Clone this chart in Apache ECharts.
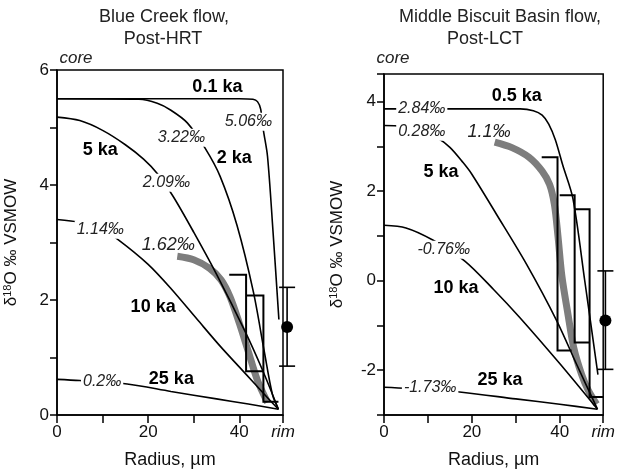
<!DOCTYPE html>
<html>
<head>
<meta charset="utf-8">
<script src="https://cdn.jsdelivr.net/npm/echarts@6/dist/echarts.min.js"></script>
<style>
  html, body { margin: 0; padding: 0; background: #fff; }
  #chart { width: 618px; height: 474px; }
</style>
</head>
<body>
<div id="chart"></div>
<script>
// Blue Creek flow (left panel) -- diffusion profiles, [radius um, d18O]
const bc01ka = [[0, 5.5], [20, 5.5], [40, 5.5], [43, 5.49], [44, 5.45], [44.7, 5.32], [45.3, 4.95], [46.2, 4.5], [47.4, 3.2], [48.7, 1.66]];
const bc2ka = [[0, 5.5], [18, 5.49], [22, 5.42], [25, 5.3], [28.6, 5.08], [32.5, 4.64], [35.8, 4.15], [39.5, 3.3], [43.1, 2.14], [45.5, 1.1], [47.3, 0.35], [48.6, 0.1]];
const bc5ka = [[0, 5.18], [5, 5.12], [10, 4.95], [15, 4.7], [19, 4.45], [22, 4.2], [25.5, 3.8], [30, 3.18], [35, 2.45], [41.3, 1.45], [45, 0.8], [48.6, 0.1]];
const bc10ka = [[0, 3.4], [5, 3.35], [10, 3.22], [13.4, 3.05], [20, 2.62], [25, 2.2], [30.8, 1.66], [36, 1.18], [41, 0.75], [46.2, 0.3], [48.6, 0.1]];
const bc25ka = [[0, 0.62], [5, 0.6], [15.4, 0.54], [25, 0.41], [35, 0.28], [42, 0.19], [48.6, 0.1]];
const bcMeasured = [[26.4, 2.76], [30, 2.7], [33.5, 2.55], [36, 2.35], [38, 2.05], [40, 1.6], [42, 1.1], [44, 0.6], [46.2, 0.22]];
// step outlines: [x start, x step, x end, upper value, lower value]
const bcSteps = [[37.8, 41.5, 45.3, 2.44, 0.76], [41.5, 45.3, 48.6, 2.08, 0.23]];
// bulk analysis: [radius, value, low, high]
const bcBulk = [[50.5, 1.53, 0.85, 2.22]];
// annotations: [radius, value, text, kind]
const bcNotes = [
  [35.2, 5.7, '0.1 ka', 'b'], [42.0, 5.1, '5.06‰', 'i'], [27.3, 4.82, '3.22‰', 'i'],
  [38.9, 4.47, '2 ka', 'b'], [9.5, 4.61, '5 ka', 'b'], [24.0, 4.04, '2.09‰', 'i'],
  [9.5, 3.22, '1.14‰', 'i'], [24.4, 2.96, '1.62‰', 'I'], [21.1, 1.87, '10 ka', 'b'],
  [9.9, 0.59, '0.2‰', 'i'], [25.1, 0.62, '25 ka', 'b']
];

// Middle Biscuit Basin flow (right panel)
const mb05ka = [[0, 3.84], [20, 3.84], [31, 3.84], [34, 3.8], [36, 3.7], [37.5, 3.5], [39, 3.15], [40.7, 2.58], [43, 1.84], [45.7, 0], [48.7, -2.1]];
const mb5ka = [[0, 3.47], [4, 3.45], [8, 3.36], [12, 3.2], [15, 2.98], [18, 2.64], [20, 2.38], [25.7, 1.47], [32.5, 0.36], [39.3, -0.89], [44, -1.9], [48.6, -2.87]];
const mb10ka = [[0, 1.24], [5, 1.18], [11.1, 0.91], [18.4, 0.44], [25, -0.2], [30.9, -0.82], [40, -1.85], [48.6, -2.87]];
const mb25ka = [[0, -2.38], [10, -2.43], [17.7, -2.49], [30, -2.64], [40, -2.76], [48.6, -2.87]];
const mbMeasured = [[25.2, 3.1], [29, 2.98], [33, 2.76], [36, 2.45], [37.7, 2.15], [38.8, 1.7], [39.6, 1.0], [40.5, 0.1], [41.8, -0.7], [43.2, -1.5], [45, -2.1], [46.5, -2.45], [48.4, -2.76]];
const mbSteps = [[35.9, 39.5, 42.7, 2.76, -1.56], [40.0, 43.4, 46.8, 1.91, -1.38], [43.4, 46.8, 49.9, 1.6, -2.6]];
const mbBulk = [[50.4, -0.89, -1.98, 0.22]];
const mbNotes = [
  [30.2, 4.13, '0.5 ka', 'b'], [8.6, 3.84, '2.84‰', 'i'], [8.6, 3.33, '0.28‰', 'i'],
  [23.9, 3.33, '1.1‰', 'I'], [13.0, 2.44, '5 ka', 'b'], [13.6, 0.69, '-0.76‰', 'i'],
  [16.4, -0.16, '10 ka', 'b'], [10.5, -2.38, '-1.73‰', 'i'], [26.4, -2.22, '25 ka', 'b']
];

const leftYRange = [0, 6];
const rightYRange = [-3, 4.62];
const leftRim = 49.6;
const rightRim = 49.9;

const FONT = '"Liberation Sans", Arial, Helvetica, sans-serif';
const chart = echarts.init(document.getElementById('chart'));

function xAxisFor(grid, rim) {
  return {
    type: 'value', gridIndex: grid, min: 0, max: rim,
    axisLine: { show: true, onZero: false, lineStyle: { color: '#000', width: 1.5 } },
    axisTick: { show: true, length: 8, customValues: [0, 10, 20, 30, 40, rim], lineStyle: { color: '#000', width: 1.5 } },
    axisLabel: {
      customValues: [0, 20, 40, rim], margin: 9, color: '#111', fontSize: 17, fontFamily: FONT,
      formatter: v => (v > 45 ? '{r|rim}' : String(v)),
      rich: { r: { fontStyle: 'italic', fontSize: 17, fontFamily: FONT, color: '#111' } }
    },
    splitLine: { show: false },
    name: 'Radius, µm', nameLocation: 'middle', nameGap: 36,
    nameTextStyle: { color: '#111', fontSize: 18, fontFamily: FONT }
  };
}

function yAxisFor(grid, range, gap) {
  return {
    type: 'value', gridIndex: grid, min: range[0], max: range[1], interval: 1,
    axisLine: { show: true, onZero: false, lineStyle: { color: '#000', width: 1.5 } },
    axisTick: { show: true, length: 7, lineStyle: { color: '#000', width: 1.5 } },
    axisLabel: {
      margin: 8, color: '#111', fontSize: 17, fontFamily: FONT, showMaxLabel: true,
      formatter: v => (Math.abs(v % 2) < 1e-9 ? String(v) : '')
    },
    splitLine: { show: false },
    name: '{d|δ}{s|18}{d|O ‰ VSMOW}', nameLocation: 'middle', nameGap: gap, nameRotate: 90,
    nameTextStyle: {
      rich: {
        d: { fontSize: 17, fontFamily: FONT, color: '#111' },
        s: { fontSize: 11, fontFamily: FONT, color: '#111', padding: [0, 0, 7, 0] }
      }
    }
  };
}

function curve(data, grid, width, color) {
  return {
    type: 'line', xAxisIndex: grid, yAxisIndex: grid, data: data,
    smooth: 0.3, showSymbol: false, silent: true,
    lineStyle: { color: color || '#000', width: width || 1.6 }, z: color ? 2 : 3
  };
}

function steps(data, grid) {
  return {
    type: 'custom', xAxisIndex: grid, yAxisIndex: grid, data: data, clip: false, z: 4,
    renderItem: (params, api) => {
      const a = api.coord([api.value(0), api.value(3)]);
      const b = api.coord([api.value(1), api.value(3)]);
      const c = api.coord([api.value(1), api.value(4)]);
      const d = api.coord([api.value(2), api.value(4)]);
      return { type: 'polyline', shape: { points: [a, b, c, d] }, style: { stroke: '#000', lineWidth: 2, fill: null } };
    }
  };
}

function bulk(data, grid) {
  return {
    type: 'custom', xAxisIndex: grid, yAxisIndex: grid, data: data, clip: false, z: 5,
    renderItem: (params, api) => {
      const c = api.coord([api.value(0), api.value(1)]);
      const lo = api.coord([api.value(0), api.value(2)]);
      const hi = api.coord([api.value(0), api.value(3)]);
      const st = { stroke: '#000', lineWidth: 1.6 };
      return {
        type: 'group', children: [
          { type: 'line', shape: { x1: lo[0], y1: lo[1], x2: hi[0], y2: hi[1] }, style: st },
          { type: 'line', shape: { x1: lo[0] - 8, y1: lo[1], x2: lo[0] + 8, y2: lo[1] }, style: st },
          { type: 'line', shape: { x1: hi[0] - 8, y1: hi[1], x2: hi[0] + 8, y2: hi[1] }, style: st },
          { type: 'circle', shape: { cx: c[0], cy: c[1], r: 6 }, style: { fill: '#000' } }
        ]
      };
    }
  };
}

function notes(list, grid) {
  return {
    type: 'custom', xAxisIndex: grid, yAxisIndex: grid, data: list.map(n => [n[0], n[1]]), clip: false, z: 6,
    renderItem: (params, api) => {
      const n = list[params.dataIndex];
      const p = api.coord([n[0], n[1]]);
      const kind = n[3];
      const font = kind === 'b' ? 'bold 18px ' + FONT : (kind === 'I' ? 'italic 18px ' + FONT : 'italic 16px ' + FONT);
      const style = { text: n[2], font: font, fill: kind === 'b' ? '#000' : '#222', align: 'center', verticalAlign: 'middle' };
      if (kind === 'i') { style.backgroundColor = '#fff'; style.padding = [1, 2]; }
      return { type: 'text', x: p[0], y: p[1], style: style };
    }
  };
}

function label(x, y, text, font) {
  return { type: 'text', x: x, y: y, style: { text: text, font: font, fill: '#222', align: 'center', verticalAlign: 'middle' } };
}

const option = {
  backgroundColor: '#fff',
  animation: false,
  grid: [
    { left: 57, top: 70, width: 226, height: 346, show: true, borderColor: '#000', borderWidth: 1.5 },
    { left: 384, top: 74, width: 221, height: 343, show: true, borderColor: '#000', borderWidth: 1.5 }
  ],
  xAxis: [xAxisFor(0, leftRim), xAxisFor(1, rightRim)],
  yAxis: [yAxisFor(0, leftYRange, 37), yAxisFor(1, rightYRange, 38)],
  graphic: [
    label(164, 17, 'Blue Creek flow,', '18px ' + FONT),
    label(163, 39, 'Post-HRT', '18px ' + FONT),
    label(500, 17, 'Middle Biscuit Basin flow,', '18px ' + FONT),
    label(485, 39, 'Post-LCT', '18px ' + FONT),
    label(76, 58, 'core', 'italic 17px ' + FONT),
    label(393, 58, 'core', 'italic 17px ' + FONT)
  ],
  series: [
    curve(bcMeasured, 0, 7, '#7d7d7d'),
    curve(bc01ka, 0), curve(bc2ka, 0), curve(bc5ka, 0), curve(bc10ka, 0), curve(bc25ka, 0),
    steps(bcSteps, 0), bulk(bcBulk, 0), notes(bcNotes, 0),
    curve(mbMeasured, 1, 7, '#7d7d7d'),
    curve(mb05ka, 1), curve(mb5ka, 1), curve(mb10ka, 1), curve(mb25ka, 1),
    steps(mbSteps, 1), bulk(mbBulk, 1), notes(mbNotes, 1)
  ]
};

chart.setOption(option);
</script>
</body>
</html>
